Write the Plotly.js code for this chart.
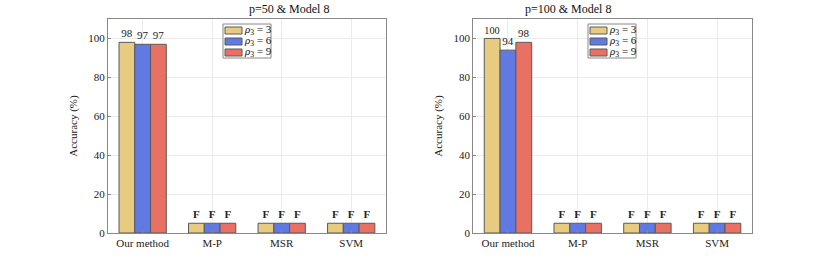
<!DOCTYPE html>
<html><head><meta charset="utf-8">
<script src="https://cdn.plot.ly/plotly-3.0.1.min.js"></script>
<style>html,body{margin:0;padding:0;background:#fff;}</style>
</head><body>
<div id="chart" style="width:830px;height:262px;"></div>
<script>
const categories = ["Our method", "M-P", "MSR", "SVM"];
const seriesNames = ["<i>ρ</i><sub>3</sub> = 3", "<i>ρ</i><sub>3</sub> = 6", "<i>ρ</i><sub>3</sub> = 9"];
const titles = ["p=50 & Model 8", "p=100 & Model 8"];
// p=50
const p50_rho3 = [98, 5, 5, 5];
const p50_rho6 = [97, 5, 5, 5];
const p50_rho9 = [97, 5, 5, 5];
const p50_labels3 = ["98", "F", "F", "F"];
const p50_labels6 = ["97", "F", "F", "F"];
const p50_labels9 = ["97", "F", "F", "F"];
// p=100
const p100_rho3 = [100, 5, 5, 5];
const p100_rho6 = [94, 5, 5, 5];
const p100_rho9 = [98, 5, 5, 5];
const p100_labels3 = ["100", "F", "F", "F"];
const p100_labels6 = ["94", "F", "F", "F"];
const p100_labels9 = ["98", "F", "F", "F"];

const colors = ["#E6CB80", "#6179E2", "#E87164"];
const edge = "#5a5a5a";
const font = "Liberation Serif, Times New Roman, serif";
const fmt = l => l.map(s => s === "F" ? "<b>F</b>" : s);
const W = 830, H = 262;
const px = v => v / W, py = v => 1 - v / H;

function mk(y, lab, i, ax) {
  return {
    type: "bar", x: categories, y: y, name: seriesNames[i],
    xaxis: ax === 1 ? "x" : "x2", yaxis: ax === 1 ? "y" : "y2",
    showlegend: false,
    marker: {color: colors[i], line: {color: edge, width: 1}},
    text: fmt(lab), textposition: "outside", cliponaxis: false,
    textfont: {family: font, size: 11, color: "#222"},
    hoverinfo: "none"
  };
}
const data = [
  mk(p50_rho3, p50_labels3, 0, 1),
  mk(p50_rho6, p50_labels6, 1, 1),
  mk(p50_rho9, p50_labels9, 2, 1),
  mk(p100_rho3, p100_labels3, 0, 2),
  mk(p100_rho6, p100_labels6, 1, 2),
  mk(p100_rho9, p100_labels9, 2, 2)
];
const xax = d => ({
  domain: d, range: [-0.5, 3.5], showline: true, mirror: true, linecolor: "#888", linewidth: 1,
  showgrid: true, gridcolor: "#ebebeb", ticks: "inside", ticklen: 3, tickcolor: "#888",
  tickfont: {family: font, size: 11, color: "#222"}, zeroline: false
});
const yax = (anchor) => ({
  domain: [0.1107, 0.9275], range: [0, 110], anchor: anchor,
  tickvals: [0, 20, 40, 60, 80, 100], showline: true, mirror: true, linecolor: "#888", linewidth: 1,
  showgrid: true, gridcolor: "#ebebeb", ticks: "inside", ticklen: 3, tickcolor: "#888",
  tickfont: {family: font, size: 11, color: "#222"}, zeroline: false,
  title: {text: "Accuracy (%)", font: {family: font, size: 11, color: "#222"}, standoff: 8}
});

// custom legends (box, swatches, labels) in pixel-derived paper coordinates
const shapes = [], annotations = [];
function legendAt(x0) {
  shapes.push({type: "rect", xref: "paper", yref: "paper", x0: px(x0), x1: px(x0 + 48), y0: py(58), y1: py(24),
    line: {color: "#888", width: 1}, fillcolor: "#fff", layer: "above"});
  const rows = [30.5, 41.5, 52.5];
  rows.forEach((r, i) => {
    shapes.push({type: "rect", xref: "paper", yref: "paper", x0: px(x0 + 2), x1: px(x0 + 19), y0: py(r + 3.5), y1: py(r - 3.5),
      line: {color: edge, width: 1}, fillcolor: colors[i], layer: "above"});
    annotations.push({text: seriesNames[i], xref: "paper", yref: "paper", x: px(x0 + 20), y: py(r), xanchor: "left", yanchor: "middle",
      showarrow: false, borderpad: 0, font: {family: font, size: 11, color: "#111"}});
  });
}
legendAt(223);
legendAt(588);
annotations.push(
  {text: titles[0], xref: "paper", yref: "paper", x: (0.130 + 0.465) / 2, y: 0.9275, yanchor: "bottom", yshift: 1, showarrow: false, font: {family: font, size: 12, color: "#111"}},
  {text: titles[1], xref: "paper", yref: "paper", x: (0.570 + 0.906) / 2, y: 0.9275, yanchor: "bottom", yshift: 1, showarrow: false, font: {family: font, size: 12, color: "#111"}}
);

const layout = {
  width: W, height: H, margin: {l: 0, r: 0, t: 0, b: 0},
  paper_bgcolor: "#fff", plot_bgcolor: "#fff",
  font: {family: font, color: "#222"},
  barmode: "group", bargap: 0.32, bargroupgap: 0, showlegend: false,
  xaxis: Object.assign(xax([0.130, 0.465]), {anchor: "y"}),
  yaxis: yax("x"),
  xaxis2: Object.assign(xax([0.570, 0.906]), {anchor: "y2"}),
  yaxis2: yax("x2"),
  shapes: shapes,
  annotations: annotations
};
Plotly.newPlot("chart", data, layout, {displayModeBar: false, staticPlot: true});
</script>
</body></html>
